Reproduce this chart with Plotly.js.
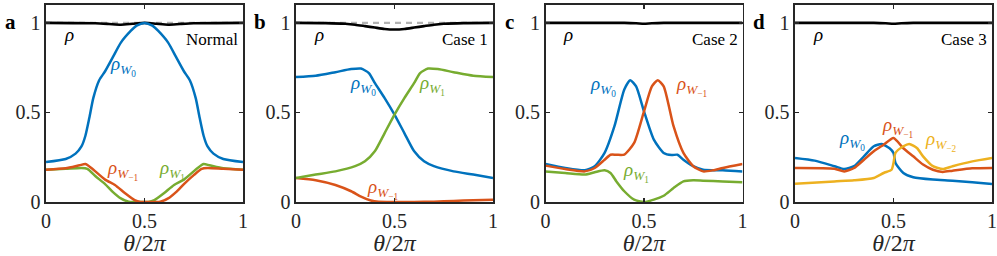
<!DOCTYPE html>
<html><head><meta charset="utf-8">
<script src="https://cdn.plot.ly/plotly-3.0.1.min.js"></script>
<style>body{margin:0;background:#fff}#g{width:997px;height:256px}</style>
</head><body><div id="g"></div>
<script>
// ---- data ----
// Panel a: Normal
const aRhoX = [0, 0.25, 0.32, 0.38, 0.44, 0.5, 0.56, 0.62, 0.68, 0.75, 1];
const aRhoY = [1, 0.998, 0.994, 0.99, 0.995, 1, 0.995, 0.99, 0.994, 0.998, 1];
const aW0X = [0, 0.1, 0.15, 0.18, 0.2, 0.22, 0.24, 0.27, 0.3, 0.34, 0.38, 0.43, 0.46, 0.5, 0.54, 0.57, 0.62, 0.66, 0.7, 0.73, 0.76, 0.78, 0.8, 0.82, 0.85, 0.9, 1];
const aW0Y = [0.223, 0.24, 0.27, 0.31, 0.37, 0.47, 0.58, 0.68, 0.73, 0.81, 0.89, 0.955, 0.985, 1.0, 0.985, 0.955, 0.89, 0.81, 0.73, 0.68, 0.58, 0.47, 0.37, 0.31, 0.27, 0.24, 0.223];
const aWm1X = [0, 0.1, 0.17, 0.2, 0.23, 0.3, 0.35, 0.4, 0.45, 0.48, 0.52, 0.58, 0.62, 0.66, 0.7, 0.75, 0.79, 0.82, 0.9, 1];
const aWm1Y = [0.18, 0.188, 0.205, 0.212, 0.19, 0.125, 0.095, 0.05, 0.01, 0, 0, 0.002, 0.02, 0.055, 0.1, 0.15, 0.185, 0.19, 0.185, 0.18];
const aW1X = [0, 0.1, 0.18, 0.21, 0.25, 0.3, 0.34, 0.38, 0.42, 0.48, 0.52, 0.55, 0.6, 0.65, 0.7, 0.77, 0.8, 0.83, 0.9, 1];
const aW1Y = [0.18, 0.185, 0.19, 0.185, 0.145, 0.1, 0.055, 0.02, 0.002, 0, 0, 0.01, 0.05, 0.095, 0.125, 0.19, 0.212, 0.205, 0.188, 0.18];
// Panel b: Case 1
const bRhoX = [0, 0.15, 0.25, 0.3, 0.35, 0.4, 0.45, 0.5, 0.55, 0.6, 0.65, 0.7, 0.75, 0.85, 1];
const bRhoY = [1, 0.999, 0.995, 0.99, 0.982, 0.974, 0.966, 0.963, 0.966, 0.974, 0.982, 0.99, 0.995, 0.999, 1];
const bW0X = [0, 0.1, 0.2, 0.28, 0.33, 0.37, 0.4, 0.45, 0.5, 0.55, 0.6, 0.65, 0.7, 0.8, 0.9, 1];
const bW0Y = [0.698, 0.705, 0.725, 0.742, 0.745, 0.72, 0.665, 0.58, 0.488, 0.385, 0.283, 0.227, 0.2, 0.171, 0.153, 0.134];
const bW1X = [0, 0.1, 0.2, 0.3, 0.35, 0.4, 0.45, 0.5, 0.55, 0.6, 0.63, 0.67, 0.72, 0.8, 0.9, 1];
const bW1Y = [0.134, 0.153, 0.171, 0.2, 0.227, 0.283, 0.385, 0.488, 0.58, 0.665, 0.72, 0.745, 0.742, 0.725, 0.705, 0.698];
const bWm1X = [0, 0.1, 0.2, 0.28, 0.33, 0.38, 0.42, 0.5, 0.6, 0.7, 0.8, 0.9, 1];
const bWm1Y = [0.134, 0.122, 0.095, 0.06, 0.03, 0.008, 0.001, 0, 0, 0.002, 0.006, 0.01, 0.012];
// Panel c: Case 2
const cRhoX = [0, 0.4, 0.46, 0.5, 0.54, 0.6, 1];
const cRhoY = [1, 1, 0.998, 0.995, 0.998, 1, 1];
const cW0X = [0, 0.1, 0.2, 0.25, 0.3, 0.35, 0.4, 0.43, 0.46, 0.5, 0.55, 0.6, 0.64, 0.67, 0.7, 0.75, 0.8, 0.9, 1];
const cW0Y = [0.212, 0.19, 0.177, 0.2, 0.274, 0.423, 0.628, 0.68, 0.645, 0.506, 0.348, 0.274, 0.262, 0.264, 0.236, 0.2, 0.18, 0.177, 0.171];
const cWm1X = [0, 0.1, 0.2, 0.25, 0.3, 0.33, 0.36, 0.4, 0.45, 0.5, 0.54, 0.57, 0.6, 0.65, 0.7, 0.75, 0.8, 0.85, 0.9, 1];
const cWm1Y = [0.203, 0.184, 0.171, 0.19, 0.236, 0.264, 0.264, 0.265, 0.33, 0.506, 0.645, 0.68, 0.646, 0.423, 0.274, 0.2, 0.171, 0.177, 0.19, 0.212];
const cW1X = [0, 0.1, 0.2, 0.25, 0.3, 0.33, 0.36, 0.4, 0.45, 0.5, 0.55, 0.6, 0.65, 0.7, 0.75, 0.8, 0.9, 1];
const cW1Y = [0.171, 0.162, 0.153, 0.166, 0.177, 0.162, 0.115, 0.06, 0.013, 0, 0.013, 0.035, 0.078, 0.115, 0.121, 0.119, 0.115, 0.11];
// Panel d: Case 3
const dRhoX = [0, 0.4, 0.46, 0.5, 0.54, 0.6, 1];
const dRhoY = [1, 1, 0.998, 0.995, 0.998, 1, 1];
const dW0X = [0, 0.1, 0.2, 0.25, 0.3, 0.35, 0.4, 0.44, 0.48, 0.5, 0.51, 0.55, 0.6, 0.7, 0.8, 0.9, 1];
const dW0Y = [0.246, 0.231, 0.2, 0.184, 0.2, 0.255, 0.311, 0.324, 0.3, 0.274, 0.218, 0.162, 0.138, 0.125, 0.119, 0.11, 0.1];
const dWm1X = [0, 0.2, 0.25, 0.3, 0.35, 0.4, 0.45, 0.5, 0.55, 0.6, 0.65, 0.7, 0.75, 0.8, 0.9, 1];
const dWm1Y = [0.19, 0.186, 0.171, 0.19, 0.236, 0.283, 0.32, 0.358, 0.3, 0.255, 0.209, 0.18, 0.168, 0.175, 0.188, 0.19];
const dWm2X = [0, 0.2, 0.3, 0.4, 0.45, 0.49, 0.5, 0.51, 0.55, 0.58, 0.62, 0.65, 0.7, 0.75, 0.8, 0.9, 1];
const dWm2Y = [0.102, 0.115, 0.121, 0.134, 0.162, 0.18, 0.218, 0.274, 0.311, 0.324, 0.3, 0.255, 0.2, 0.184, 0.2, 0.227, 0.246];

const xTicks = [0, 0.5, 1];
const xTickText = ['0', '0.5', '1'];
const yTicks = [0, 0.5, 1];
const yTickText = ['0', '0.5', '1'];
const panelLetters = ['a', 'b', 'c', 'd'];
const panelNames = ['Normal', 'Case 1', 'Case 2', 'Case 3'];

// ---- styling ----
const BLUE = '#0072BD', ORANGE = '#D95319', YELLOW = '#EDB120', GREEN = '#77AC30';
const SERIF = '"Liberation Serif", "Times New Roman", Times, serif';
const AX = '#262626';
const W = 997, H = 256;
const xPix = [[46, 243], [296, 493], [545.5, 742.5], [795, 992]];
const yTop = 5, yBot = 202;

function line(x, y, color, idx, extra) {
  return Object.assign({
    x: x, y: y, type: 'scatter', mode: 'lines',
    line: {color: color, width: 2.5, shape: 'spline', smoothing: 0.6},
    xaxis: idx === 0 ? 'x' : 'x' + (idx + 1),
    yaxis: idx === 0 ? 'y' : 'y' + (idx + 1),
    hoverinfo: 'skip', showlegend: false
  }, extra || {});
}
const rhoStyle = {line: {color: '#000', width: 2.6, shape: 'spline', smoothing: 0.6}};
const dashStyle = {line: {color: '#b3b3b3', width: 2.2, dash: '6px,5px'}};

const traces = [];
// dashed reference at 1 (panels a, b)
traces.push(line([0, 1], [1, 1], '#b3b3b3', 0, dashStyle));
traces.push(line([0, 1], [1, 1], '#b3b3b3', 1, dashStyle));

traces.push(line(aRhoX, aRhoY, '#000', 0, rhoStyle));
traces.push(line(aW0X, aW0Y, BLUE, 0));
traces.push(line(aW1X, aW1Y, GREEN, 0));
traces.push(line(aWm1X, aWm1Y, ORANGE, 0));

traces.push(line(bRhoX, bRhoY, '#000', 1, rhoStyle));
traces.push(line(bW0X, bW0Y, BLUE, 1));
traces.push(line(bWm1X, bWm1Y, ORANGE, 1));
traces.push(line(bW1X, bW1Y, GREEN, 1));

traces.push(line(cRhoX, cRhoY, '#000', 2, rhoStyle));
traces.push(line(cW1X, cW1Y, GREEN, 2));
traces.push(line(cW0X, cW0Y, BLUE, 2));
traces.push(line(cWm1X, cWm1Y, ORANGE, 2));

traces.push(line(dRhoX, dRhoY, '#000', 3, rhoStyle));
traces.push(line(dW0X, dW0Y, BLUE, 3));
traces.push(line(dWm1X, dWm1Y, ORANGE, 3));
traces.push(line(dWm2X, dWm2Y, YELLOW, 3));

const layout = {
  width: W, height: H,
  margin: {l: 0, r: 0, t: 0, b: 0},
  paper_bgcolor: '#fff', plot_bgcolor: '#fff',
  font: {family: SERIF, color: AX, size: 19},
  showlegend: false,
  annotations: []
};

for (let i = 0; i < 4; i++) {
  const sx = i === 0 ? '' : String(i + 1);
  layout['xaxis' + sx] = {
    domain: [xPix[i][0] / W, xPix[i][1] / W],
    range: [0, 1], anchor: 'y' + sx,
    tickmode: 'array', tickvals: xTicks, ticktext: xTickText,
    ticks: 'inside', ticklen: 4, tickwidth: 1.2, tickcolor: AX,
    showline: true, linecolor: AX, linewidth: 1.6, mirror: 'ticks',
    showgrid: false, zeroline: false, fixedrange: true,
    tickfont: {family: SERIF, size: 20, color: AX},
    automargin: false,
    title: {text: '<i>θ</i>/2<i>π</i>', font: {family: SERIF, size: 24, color: AX}, standoff: 0}
  };
  layout['yaxis' + sx] = {
    domain: [(H - yBot) / H, (H - yTop) / H],
    range: [0, 1.1], anchor: 'x' + sx,
    tickmode: 'array', tickvals: yTicks, ticktext: yTickText,
    ticks: 'inside', ticklen: 4, tickwidth: 1.2, tickcolor: AX,
    showline: true, linecolor: AX, linewidth: 1.6, mirror: 'ticks',
    showgrid: false, zeroline: false, fixedrange: true,
    tickfont: {family: SERIF, size: 20, color: AX},
    automargin: false
  };
  layout.annotations.push({
    xref: 'paper', yref: 'paper', x: (xPix[i][0] - 36) / W, y: 1 - 22 / H,
    text: '<b>' + panelLetters[i] + '</b>', showarrow: false,
    xanchor: 'center', yanchor: 'middle',
    font: {family: SERIF, size: 21, color: '#000'}
  });
  layout.annotations.push({
    xref: 'x' + sx, yref: 'y' + sx, x: 0.985, y: 0.91,
    text: panelNames[i], showarrow: false, xanchor: 'right', yanchor: 'middle',
    font: {family: SERIF, size: 17, color: '#000'}
  });
  layout.annotations.push({
    xref: 'x' + sx, yref: 'y' + sx, x: 0.115, y: 0.935,
    text: '<i>ρ</i>', showarrow: false, xanchor: 'center', yanchor: 'middle',
    font: {family: SERIF, size: 19, color: '#000'}
  });
}

function lab(i, x, y, sub, color) {
  const sx = i === 0 ? '' : String(i + 1);
  layout.annotations.push({
    xref: 'x' + sx, yref: 'y' + sx, x: x, y: y,
    text: '<i>ρ</i><sub><i>W</i><sub>' + sub + '</sub></sub>',
    showarrow: false, xanchor: 'center', yanchor: 'middle',
    font: {family: SERIF, size: 19, color: color}
  });
}
lab(0, 0.39, 0.76, '0', BLUE);
lab(0, 0.39, 0.18, '−1', ORANGE);
lab(0, 0.64, 0.18, '1', GREEN);
lab(1, 0.34, 0.655, '0', BLUE);
lab(1, 0.69, 0.655, '1', GREEN);
lab(1, 0.44, 0.075, '−1', ORANGE);
lab(2, 0.29, 0.645, '0', BLUE);
lab(2, 0.74, 0.645, '−1', ORANGE);
lab(2, 0.46, 0.17, '1', GREEN);
lab(3, 0.29, 0.345, '0', BLUE);
lab(3, 0.52, 0.42, '−1', ORANGE);
lab(3, 0.74, 0.34, '−2', YELLOW);

Plotly.newPlot('g', traces, layout, {staticPlot: true, displayModeBar: false});
</script>
</body></html>
